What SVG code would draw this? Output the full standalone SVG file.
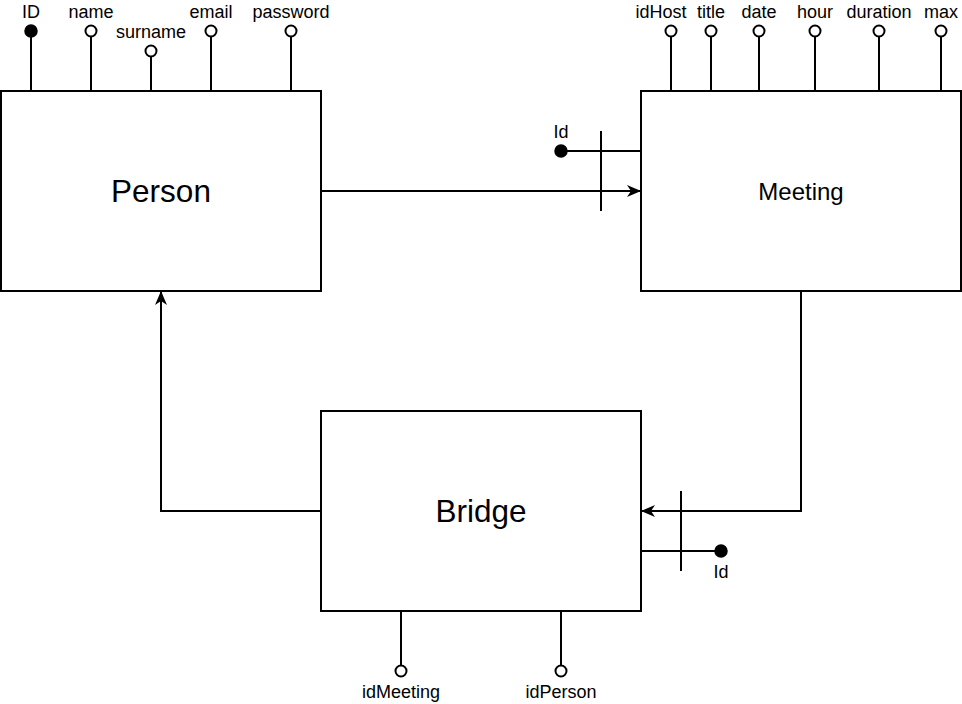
<svg xmlns="http://www.w3.org/2000/svg" width="962" height="704" viewBox="0 0 962 704">
<style>
.box{fill:#fff;stroke:#000;stroke-width:2}
.ln{fill:none;stroke:#000;stroke-width:2}
.oc{fill:#fff;stroke:#000;stroke-width:2}
.fc{fill:#000;stroke:#000;stroke-width:1.5}
.t{font-family:"Liberation Sans",Arial,sans-serif;font-size:18px;fill:#000;text-anchor:middle}
.big{font-family:"Liberation Sans",Arial,sans-serif;font-size:31.5px;fill:#000;text-anchor:middle}
.mid{font-family:"Liberation Sans",Arial,sans-serif;font-size:24px;fill:#000;text-anchor:middle}
</style>
<defs>
<marker id="arr" viewBox="0 0 14 12" refX="13" refY="6" markerWidth="14" markerHeight="12" markerUnits="userSpaceOnUse" orient="auto">
<path d="M0,0 L14,6 L0,12 L4,6 Z" fill="#000"/>
</marker>
</defs>
<rect width="962" height="704" fill="#fff"/>
<g id="connectors">
<path class="ln" d="M321,191 H640" marker-end="url(#arr)"/>
<path class="ln" d="M801,291 V511 H642" marker-end="url(#arr)"/>
<path class="ln" d="M321,511 H161 V292" marker-end="url(#arr)"/>
</g>
<g id="person-attrs">
<line class="ln" x1="31" y1="37" x2="31" y2="91"/><circle class="fc" cx="31" cy="31" r="6"/><text class="t" x="31" y="17.5">ID</text>
<line class="ln" x1="91" y1="37" x2="91" y2="91"/><circle class="oc" cx="91" cy="31" r="5.5"/><text class="t" x="91" y="17.5">name</text>
<line class="ln" x1="151" y1="57" x2="151" y2="91"/><circle class="oc" cx="151" cy="51" r="5.5"/><text class="t" x="151" y="37.5">surname</text>
<line class="ln" x1="211" y1="37" x2="211" y2="91"/><circle class="oc" cx="211" cy="31" r="5.5"/><text class="t" x="211" y="17.5">email</text>
<line class="ln" x1="291" y1="37" x2="291" y2="91"/><circle class="oc" cx="291" cy="31" r="5.5"/><text class="t" x="291" y="17.5">password</text>
</g>
<g id="person">
<rect class="box" x="1" y="91" width="320" height="200"/>
<text class="big" x="161" y="202">Person</text>
</g>
<g id="meeting-attrs">
<line class="ln" x1="671" y1="37" x2="671" y2="91"/><circle class="oc" cx="671" cy="31" r="5.5"/><text class="t" x="661" y="17.5">idHost</text>
<line class="ln" x1="711" y1="37" x2="711" y2="91"/><circle class="oc" cx="711" cy="31" r="5.5"/><text class="t" x="711" y="17.5">title</text>
<line class="ln" x1="759" y1="37" x2="759" y2="91"/><circle class="oc" cx="759" cy="31" r="5.5"/><text class="t" x="759" y="17.5">date</text>
<line class="ln" x1="815" y1="37" x2="815" y2="91"/><circle class="oc" cx="815" cy="31" r="5.5"/><text class="t" x="815" y="17.5">hour</text>
<line class="ln" x1="879" y1="37" x2="879" y2="91"/><circle class="oc" cx="879" cy="31" r="5.5"/><text class="t" x="879" y="17.5">duration</text>
<line class="ln" x1="941" y1="37" x2="941" y2="91"/><circle class="oc" cx="941" cy="31" r="5.5"/><text class="t" x="941" y="17.5">max</text>
<line class="ln" x1="561" y1="151" x2="641" y2="151"/><line class="ln" x1="601" y1="131" x2="601" y2="211"/><circle class="fc" cx="561" cy="151" r="6"/><text class="t" x="561" y="137.5">Id</text>
</g>
<g id="meeting">
<rect class="box" x="641" y="91" width="320" height="200"/>
<text class="mid" x="801" y="199.5">Meeting</text>
</g>
<g id="bridge-attrs">
<line class="ln" x1="641" y1="551" x2="721" y2="551"/><line class="ln" x1="681" y1="491" x2="681" y2="571"/><circle class="fc" cx="721" cy="551" r="6"/><text class="t" x="721" y="577.5">Id</text>
<line class="ln" x1="401" y1="611" x2="401" y2="665"/><circle class="oc" cx="401" cy="671" r="5.5"/><text class="t" x="401" y="697.5">idMeeting</text>
<line class="ln" x1="561" y1="611" x2="561" y2="665"/><circle class="oc" cx="561" cy="671" r="5.5"/><text class="t" x="561" y="697.5">idPerson</text>
</g>
<g id="bridge">
<rect class="box" x="321" y="411" width="320" height="200"/>
<text class="big" x="481" y="522">Bridge</text>
</g>
</svg>
